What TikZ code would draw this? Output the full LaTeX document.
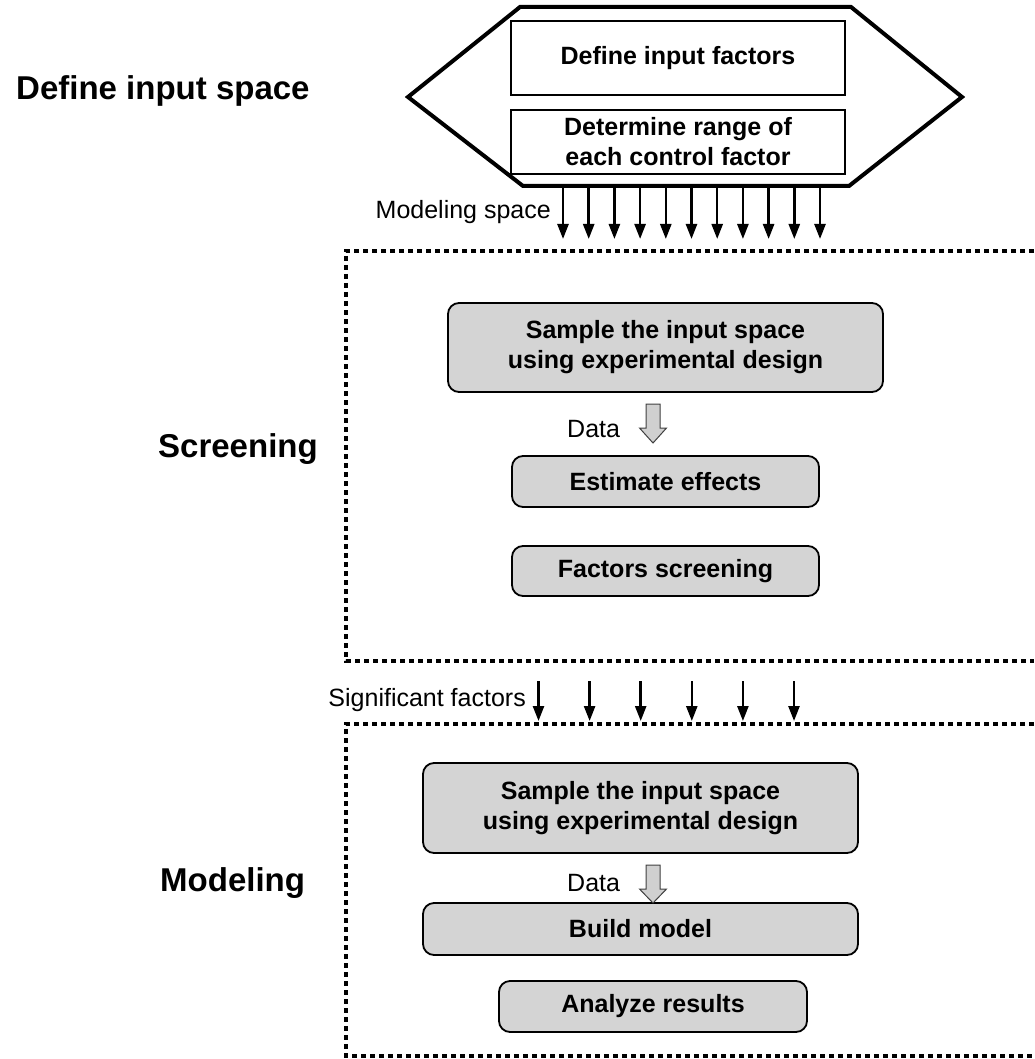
\documentclass[tikz,border=0pt]{standalone}
\usepackage{fontspec}
\setmainfont{Liberation Sans}
\usetikzlibrary{arrows.meta}

\definecolor{boxgray}{RGB}{212,212,212}
\definecolor{arrowgray}{RGB}{208,208,208}
\newcommand\bxfont{\fontsize{25}{30}\selectfont\bfseries}
\newcommand\sidefont{\fontsize{33}{38}\selectfont\bfseries}
\newcommand\smallfont{\fontsize{25}{30}\selectfont}

\begin{document}
\begin{tikzpicture}[x=1pt,y=-1pt,
  dotframe/.style={line width=4.5pt, dash pattern=on 5pt off 4pt},
  whitebox/.style={draw, line width=1.8pt, fill=white, inner sep=0pt,
    minimum width=334pt, align=center, font=\bxfont},
  graybox/.style={draw, line width=1.8pt, fill=boxgray, rounded corners=11pt,
    inner sep=0pt, align=center, font=\bxfont},
  arr/.style={line width=2.5pt, -{Triangle[length=15pt,width=11pt]}},
  sidelabel/.style={anchor=base west, inner sep=0pt, font=\sidefont},
  smalllabel/.style={inner sep=0pt, font=\smallfont},
  hollow/.style={draw=black!75, line width=1pt, fill=arrowgray, line join=miter}
]
\useasboundingbox (0,0) rectangle (1034,1059);

% ---- input space: hexagon with the two definition boxes
\coordinate (hxL) at (408,97);
\coordinate (hxTL) at (520,7);
\coordinate (hxTR) at (851,7);
\coordinate (hxR) at (962,97);
\coordinate (hxBR) at (849,186);
\coordinate (hxBL) at (523,186);
\draw[line width=4pt, line join=miter] (hxL) -- (hxTL) -- (hxTR) -- (hxR) -- (hxBR) -- (hxBL) -- cycle;

\node[whitebox, minimum height=74pt] (factors) at (678,58) {Define input factors};
\node[whitebox, minimum height=64pt] (range) at (678,142) {Determine range of\\each control factor};

\node[sidelabel] (lblinput) at (16,100) {Define input space};

% ---- screening stage
\draw[dotframe] (1034,251) -- (346,251) -- (346,661) -- (1034,661);
\node[sidelabel] (lblscreen) at (158,457) {Screening};

\node[graybox, minimum width=435pt, minimum height=89pt] (sample1) at (665.5,347.5)
  {Sample the input space\\using experimental design};
\node[graybox, minimum width=307pt, minimum height=51pt] (estimate) at (665.5,481.5) {Estimate effects};
\node[graybox, minimum width=307pt, minimum height=50pt] (screen) at (665.5,571) {Factors screening};

% ---- modeling stage
\draw[dotframe] (1034,724) -- (346,724) -- (346,1056) -- (1034,1056);
\node[sidelabel] (lblmodel) at (160,891) {Modeling};

\node[graybox, minimum width=435pt, minimum height=90pt] (sample2) at (640.5,808)
  {Sample the input space\\using experimental design};
\node[graybox, minimum width=435pt, minimum height=52pt] (build) at (640.5,929) {Build model};
\node[graybox, minimum width=308pt, minimum height=51pt] (analyze) at (653,1006.5) {Analyze results};

% ---- modeling space arrows (hexagon -> screening frame)
\foreach \i in {0,...,10}{
  \pgfmathsetmacro\xx{563+25.7*\i}
  \coordinate (ms\i) at (\xx,188);
  \coordinate (me\i) at (\xx,239);
  \draw[arr] (ms\i) -- (me\i);
}
\node[smalllabel, anchor=base east] (lblspace) at (551,219) {Modeling space};

% ---- significant factors arrows (screening -> modeling frame)
\foreach \i in {0,...,5}{
  \pgfmathsetmacro\xx{538.5+51.1*\i}
  \coordinate (ss\i) at (\xx,681);
  \coordinate (se\i) at (\xx,721);
  \draw[arr] (ss\i) -- (se\i);
}
\node[smalllabel, anchor=base east] (lblsig) at (526,706) {Significant factors};

% ---- hollow data arrows
\coordinate (d1) at (653,404);
\draw[hollow] (d1) ++(-7,0) -- ++(14,0) -- ++(0,24) -- ++(6.5,0) -- ++(-13.5,15)
  -- ++(-13.5,-15) -- ++(6.5,0) -- cycle;
\node[smalllabel, anchor=base west] (lbldata1) at (567,437) {Data};

\coordinate (d2) at (653,865);
\draw[hollow] (d2) ++(-7,0) -- ++(14,0) -- ++(0,24) -- ++(6.5,0) -- ++(-13.5,14)
  -- ++(-13.5,-14) -- ++(6.5,0) -- cycle;
\node[smalllabel, anchor=base west] (lbldata2) at (567,891) {Data};

\end{tikzpicture}
\end{document}
